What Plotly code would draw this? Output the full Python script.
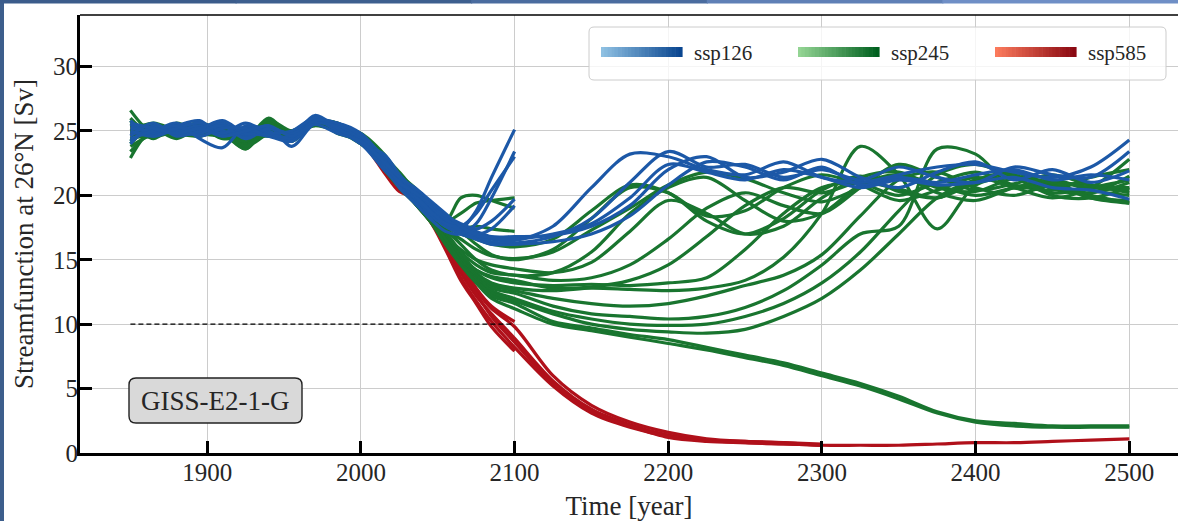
import plotly.graph_objects as go

# ---------------- data ----------------
HIST_YEARS = [1850, 1865, 1880, 1895, 1910, 1925, 1940, 1955, 1970, 1985, 2000, 2015]
SCEN_YEARS = [2025, 2035, 2045, 2055, 2065, 2075, 2085, 2100]
EXT_YEARS = [2125, 2150, 2175, 2200, 2225, 2250, 2275, 2300,
             2325, 2350, 2375, 2400, 2425, 2450, 2475, 2500]

X_TICKS = [1900, 2000, 2100, 2200, 2300, 2400, 2500]
Y_TICKS = [0, 5, 10, 15, 20, 25, 30]
THRESHOLD_YEARS = [1850, 2100]
THRESHOLD_SV = [10, 10]
MODEL_NAME = "GISS-E2-1-G"
SCENARIOS = ["ssp126", "ssp245", "ssp585"]

# ssp126 (first five members are extended to 2500)
SSP126_HIST = [
    [25.5, 24.8, 25.4, 25.8, 24.6, 25.3, 24.9, 24.4, 25.8, 25.4, 24.3, 22.4],
    [24.2, 25.2, 24.9, 25.2, 25.6, 24.6, 25.2, 24.8, 26.0, 25.0, 24.0, 22.0],
    [24.8, 25.0, 25.6, 24.4, 23.7, 25.4, 25.0, 24.2, 25.7, 25.2, 24.5, 23.0],
    [25.8, 24.6, 25.2, 25.6, 25.0, 24.8, 25.4, 23.8, 25.6, 25.6, 24.8, 22.8],
    [24.0, 25.4, 24.8, 24.8, 25.4, 25.0, 24.6, 24.6, 26.2, 25.2, 24.2, 22.6],
    [25.2, 25.0, 25.0, 25.4, 24.8, 25.6, 24.8, 24.4, 25.9, 25.0, 24.6, 22.8],
    [24.6, 25.6, 24.6, 25.0, 25.4, 24.4, 25.2, 24.8, 25.6, 25.4, 24.4, 22.2],
    [25.0, 24.6, 25.2, 25.2, 25.8, 24.8, 24.8, 25.0, 26.0, 25.2, 24.0, 23.2],
    [24.4, 25.0, 25.4, 24.6, 25.2, 25.2, 24.6, 24.2, 25.8, 25.6, 24.6, 22.4],
    [25.6, 25.2, 24.8, 25.2, 24.6, 25.0, 25.4, 24.6, 25.5, 24.8, 24.2, 22.6],
]
SSP126_SCEN = [
    [21.2, 20.2, 19.0, 18.0, 17.4, 17.0, 16.6, 16.5],
    [20.8, 19.6, 18.6, 17.8, 17.2, 16.8, 16.4, 16.3],
    [21.6, 20.4, 19.2, 18.2, 17.6, 17.2, 16.8, 16.8],
    [21.0, 19.8, 18.8, 17.6, 17.0, 16.6, 16.2, 16.2],
    [21.4, 20.0, 18.4, 17.8, 17.2, 16.9, 16.7, 16.6],
    [21.2, 19.8, 18.6, 17.6, 17.4, 18.8, 21.4, 25.1],
    [20.6, 19.4, 18.2, 17.2, 17.0, 17.8, 19.8, 23.4],
    [21.6, 20.0, 18.8, 17.8, 17.6, 18.6, 20.4, 23.0],
    [21.0, 20.2, 19.4, 18.4, 17.8, 17.4, 18.0, 19.7],
    [21.4, 20.6, 19.6, 18.6, 17.6, 17.0, 17.4, 19.2],
]
SSP126_EXT = [
    [17.6, 20.6, 23.2, 23.0, 22.0, 21.6, 22.6, 21.4, 21.0, 21.6, 22.2, 22.4, 21.8, 21.4, 22.2, 24.3],
    [16.8, 18.2, 21.0, 23.4, 22.2, 22.4, 21.4, 22.0, 21.2, 22.2, 21.4, 21.0, 22.2, 21.6, 21.4, 23.4],
    [16.9, 17.6, 19.2, 22.0, 23.0, 21.4, 21.8, 22.8, 21.4, 20.6, 21.8, 22.6, 21.2, 22.0, 21.0, 21.9],
    [16.4, 17.0, 18.4, 20.8, 22.6, 22.2, 21.2, 22.2, 20.8, 21.4, 21.0, 21.6, 22.0, 21.2, 21.6, 21.2],
    [17.0, 17.8, 19.8, 22.4, 21.8, 21.2, 22.0, 21.4, 20.6, 21.2, 20.8, 21.0, 21.4, 20.6, 20.4, 19.7],
]

# ssp245 (first fifteen members are extended to 2500)
SSP245_HIST = [
    [26.6, 24.8, 25.2, 25.0, 24.6, 25.0, 25.0, 24.8, 25.6, 25.2, 24.0, 22.4],
    [22.9, 25.2, 24.8, 25.4, 25.0, 23.8, 25.8, 25.0, 25.8, 25.0, 24.4, 22.8],
    [25.8, 24.4, 25.6, 24.8, 25.2, 24.4, 26.0, 24.6, 25.6, 25.4, 24.2, 22.2],
    [24.0, 25.4, 24.6, 25.4, 24.8, 23.6, 25.4, 24.4, 25.9, 25.2, 24.6, 23.0],
    [26.0, 24.6, 25.0, 25.0, 25.6, 24.2, 24.8, 24.2, 25.6, 25.6, 24.0, 22.6],
    [23.4, 25.0, 25.4, 24.6, 25.2, 24.0, 25.6, 24.8, 25.4, 25.0, 24.4, 22.4],
    [25.4, 25.2, 24.4, 25.2, 24.4, 24.6, 25.2, 24.6, 26.0, 25.2, 24.8, 23.2],
    [24.4, 24.8, 25.2, 25.6, 25.0, 23.8, 24.8, 25.0, 25.8, 24.8, 24.2, 22.0],
    [25.0, 25.6, 25.0, 24.6, 25.4, 24.4, 25.8, 24.4, 25.6, 25.4, 24.4, 22.6],
    [24.6, 24.6, 25.4, 25.0, 24.6, 24.8, 25.0, 24.6, 25.8, 25.0, 24.0, 22.8],
    [25.2, 25.0, 24.8, 25.2, 25.0, 23.6, 25.4, 24.8, 25.5, 25.4, 24.6, 22.4],
    [24.2, 25.4, 25.0, 24.8, 25.4, 24.2, 25.0, 24.4, 25.7, 25.0, 24.2, 23.0],
    [25.6, 24.8, 25.2, 25.2, 24.8, 24.6, 25.6, 24.6, 25.9, 25.2, 24.4, 22.6],
    [24.8, 25.2, 24.6, 25.4, 25.2, 24.0, 24.8, 25.0, 25.6, 25.2, 24.8, 22.2],
    [25.0, 24.6, 25.4, 24.8, 24.6, 24.4, 25.4, 24.2, 25.8, 25.4, 24.0, 22.8],
    [24.4, 25.0, 25.0, 25.0, 25.2, 23.8, 25.2, 24.8, 25.6, 25.0, 24.6, 23.0],
    [25.4, 25.4, 24.8, 24.6, 25.0, 24.6, 24.6, 24.6, 26.0, 25.2, 24.2, 22.6],
    [23.8, 24.8, 25.4, 25.4, 24.8, 24.2, 25.6, 24.4, 25.7, 25.6, 24.4, 22.4],
]
SSP245_SCEN = [
    [20.8, 19.6, 18.4, 17.6, 17.0, 16.6, 16.2, 16.0],
    [21.2, 19.8, 18.6, 17.4, 16.6, 15.8, 15.3, 15.1],
    [20.6, 19.4, 18.0, 16.8, 15.8, 15.0, 14.6, 14.3],
    [21.4, 20.0, 18.6, 17.0, 15.6, 14.6, 14.0, 13.8],
    [21.0, 19.6, 18.2, 16.6, 15.2, 14.2, 13.7, 13.4],
    [20.8, 19.8, 18.4, 16.8, 15.4, 14.2, 13.6, 13.2],
    [21.6, 20.2, 18.8, 17.2, 15.6, 14.0, 13.2, 12.8],
    [20.6, 19.4, 18.0, 16.4, 15.0, 13.8, 13.0, 12.6],
    [21.2, 20.0, 18.6, 16.8, 15.2, 13.8, 12.8, 12.4],
    [21.0, 19.6, 18.2, 16.6, 15.0, 13.6, 12.6, 12.0],
    [21.4, 19.8, 18.4, 16.6, 14.8, 13.4, 12.4, 11.8],
    [21.8, 20.4, 19.2, 18.0, 17.2, 16.2, 15.4, 15.0],
    [21.2, 20.0, 18.8, 17.4, 16.2, 15.0, 14.2, 13.8],
    [20.8, 19.6, 18.2, 16.6, 14.8, 13.4, 12.2, 11.6],
    [21.0, 19.4, 18.0, 16.2, 14.6, 13.2, 12.0, 11.2],
    [21.4, 20.4, 19.2, 18.0, 19.8, 20.0, 19.6, 19.0],
    [21.6, 20.6, 19.4, 18.0, 18.6, 19.4, 19.6, 19.8],
    [21.0, 20.0, 18.8, 17.6, 17.4, 17.6, 17.4, 17.2],
]
SSP245_EXT = [
    [16.6, 18.8, 20.8, 20.2, 18.0, 17.0, 18.2, 20.4, 21.5, 20.3, 19.8, 21.0, 21.8, 20.5, 20.2, 21.5],
    [15.6, 17.3, 19.0, 20.8, 21.8, 21.3, 20.2, 19.5, 20.6, 21.6, 20.8, 20.0, 20.6, 21.2, 20.4, 20.0],
    [14.0, 14.8, 17.2, 19.6, 18.6, 17.0, 17.6, 19.8, 21.4, 21.8, 20.6, 20.3, 21.3, 20.8, 19.8, 19.6],
    [13.4, 13.6, 14.6, 16.6, 19.0, 20.2, 19.2, 18.6, 20.6, 22.4, 21.4, 20.4, 20.9, 21.6, 20.8, 20.6],
    [12.8, 12.9, 13.4, 14.6, 16.8, 19.2, 20.6, 20.2, 21.0, 20.5, 19.8, 21.2, 21.6, 20.2, 20.6, 21.2],
    [13.0, 13.1, 13.0, 13.2, 13.6, 15.8, 18.6, 20.6, 20.9, 20.0, 21.0, 21.8, 20.8, 20.4, 21.4, 22.0],
    [12.6, 12.8, 12.7, 12.6, 12.8, 13.4, 15.2, 18.6, 23.8, 21.6, 17.4, 20.8, 21.4, 21.0, 20.8, 20.2],
    [12.0, 11.6, 11.4, 11.6, 12.2, 13.0, 13.8, 15.4, 18.4, 21.2, 21.8, 20.6, 20.0, 20.8, 20.0, 19.4],
    [11.4, 10.8, 10.6, 10.4, 10.6, 11.3, 12.6, 14.6, 17.0, 17.6, 23.6, 23.2, 20.6, 21.0, 20.6, 20.4],
    [11.0, 10.4, 10.0, 9.9, 10.0, 10.6, 11.6, 13.2, 15.6, 18.8, 21.6, 22.4, 21.4, 20.0, 19.8, 20.6],
    [10.8, 10.0, 9.6, 9.4, 9.3, 9.6, 10.6, 12.0, 14.2, 17.0, 19.8, 21.2, 21.8, 20.6, 20.2, 21.0],
    [15.8, 18.2, 20.6, 20.2, 18.4, 18.8, 20.6, 21.6, 20.8, 19.6, 20.4, 21.4, 20.6, 19.8, 20.6, 22.8],
    [14.0, 15.6, 18.6, 20.6, 21.4, 19.6, 18.0, 18.6, 20.8, 21.6, 20.2, 19.6, 20.6, 21.0, 19.8, 19.4],
    [10.2, 9.7, 9.2, 8.8, 8.2, 7.6, 7.0, 6.2, 5.4, 4.4, 3.2, 2.5, 2.3, 2.1, 2.1, 2.1],
    [10.0, 9.5, 9.0, 8.5, 8.0, 7.4, 6.8, 6.0, 5.2, 4.2, 3.1, 2.4, 2.1, 2.0, 2.0, 2.0],
]

# ssp585 (first member to 2500, next three to 2300)
SSP585_HIST = [
    [25.0, 25.0, 25.2, 25.0, 25.0, 24.8, 25.0, 24.6, 25.8, 25.2, 24.2, 21.8],
    [24.8, 25.2, 25.0, 25.2, 24.8, 24.8, 25.2, 24.6, 25.7, 25.0, 24.4, 22.6],
    [25.2, 24.8, 25.0, 24.8, 25.2, 25.0, 24.8, 24.8, 25.6, 25.2, 24.2, 22.4],
    [24.6, 25.0, 25.2, 25.0, 25.0, 24.6, 25.0, 24.6, 25.8, 25.4, 24.6, 22.8],
    [25.4, 25.2, 24.8, 25.2, 24.8, 25.0, 25.2, 24.4, 25.6, 25.2, 24.4, 22.4],
    [24.8, 24.8, 25.0, 25.0, 25.2, 24.8, 24.8, 24.8, 25.8, 25.0, 24.2, 22.2],
]
SSP585_SCEN = [
    [20.3, 19.8, 18.6, 16.4, 14.0, 12.2, 10.8, 8.9],
    [21.2, 20.0, 18.2, 16.0, 13.6, 11.8, 10.2, 8.2],
    [21.0, 19.6, 18.0, 16.2, 14.2, 12.6, 11.2, 9.8],
    [21.6, 20.4, 18.8, 16.6, 14.4, 12.4, 10.6, 8.6],
    [21.0, 19.6, 18.4, 16.8, 14.8, 12.8, 11.4, 10.2],
    [20.8, 19.4, 18.0, 15.8, 13.4, 11.6, 9.8, 7.9],
]
SSP585_EXT = [
    [5.6, 3.4, 2.2, 1.4, 1.0, 0.9, 0.8, 0.6, 0.6, 0.6, 0.7, 0.8, 0.8, 0.9, 1.0, 1.1],
    [5.2, 3.1, 2.0, 1.3, 1.0, 0.8, 0.7, 0.6],
    [6.0, 3.7, 2.4, 1.6, 1.1, 0.9, 0.8, 0.7],
    [5.4, 3.2, 2.1, 1.2, 0.9, 0.8, 0.7, 0.6],
]

# ---------------- styling ----------------
LINE_COLORS = {"ssp126": "#1c58a7", "ssp245": "#19752f", "ssp585": "#b0101a"}
GRAD = {"ssp126": ("#8ec0e2", "#0a4690"),
        "ssp245": ("#93d493", "#00601f"),
        "ssp585": ("#fb7a5c", "#8a0812")}
SERIF = "Liberation Serif, Times New Roman, serif"
TXT = "#262626"

W, H = 1178, 521
L, R, T, B = 80, 0, 15, 68
PW, PH = W - L - R, H - T - B
XR = [1817.2, 2531.7]
YR = [0, 34]

fig = go.Figure()

def add_member(hist, scen, ext, color):
    xs = HIST_YEARS + SCEN_YEARS
    ys = hist + scen
    if ext:
        xs = xs + EXT_YEARS[:len(ext)]
        ys = ys + ext
    fig.add_trace(go.Scatter(x=xs, y=ys, mode="lines",
                             line=dict(color=color, width=3.2, shape="spline", smoothing=0.9),
                             showlegend=False, hoverinfo="skip"))

for name, H_, S_, E_ in [("ssp585", SSP585_HIST, SSP585_SCEN, SSP585_EXT),
                         ("ssp245", SSP245_HIST, SSP245_SCEN, SSP245_EXT),
                         ("ssp126", SSP126_HIST, SSP126_SCEN, SSP126_EXT)]:
    for i in range(len(H_)):
        add_member(H_[i], S_[i], E_[i] if i < len(E_) else None, LINE_COLORS[name])

fig.add_trace(go.Scatter(x=THRESHOLD_YEARS, y=THRESHOLD_SV, mode="lines",
                         line=dict(color="black", width=1.3, dash="5px,3px"),
                         showlegend=False, hoverinfo="skip"))

# ---------------- decorations (pixel helpers) ----------------
def px(v):
    return (v - L) / PW

def py(v):
    return (H - B - v) / PH

def hexrgb(h):
    h = h.lstrip("#")
    return tuple(int(h[i:i + 2], 16) for i in (0, 2, 4))

def rrect(x0, y0, x1, y1, r):
    return (f"M {px(x0 + r)},{py(y0)} L {px(x1 - r)},{py(y0)} "
            f"Q {px(x1)},{py(y0)} {px(x1)},{py(y0 + r)} L {px(x1)},{py(y1 - r)} "
            f"Q {px(x1)},{py(y1)} {px(x1 - r)},{py(y1)} L {px(x0 + r)},{py(y1)} "
            f"Q {px(x0)},{py(y1)} {px(x0)},{py(y1 - r)} L {px(x0)},{py(y0 + r)} "
            f"Q {px(x0)},{py(y0)} {px(x0 + r)},{py(y0)} Z")

shapes = []
annotations = []

# top thin spine
shapes.append(dict(type="line", xref="paper", yref="paper", x0=0, x1=1, y0=1, y1=1,
                   line=dict(color="black", width=1.6), layer="above"))

# model name box
shapes.append(dict(type="path", xref="paper", yref="paper", path=rrect(129, 378, 302, 423, 7),
                   fillcolor="#d9d9d9", line=dict(color="#222222", width=1.4), layer="above"))
annotations.append(dict(xref="paper", yref="paper", x=px(215.5), y=py(400.5), text=MODEL_NAME,
                        showarrow=False, font=dict(family=SERIF, size=27, color=TXT),
                        xanchor="center", yanchor="middle"))

# legend box
shapes.append(dict(type="path", xref="paper", yref="paper", path=rrect(589, 27, 1166, 80, 5),
                   fillcolor="rgba(255,255,255,0.8)", line=dict(color="#cccccc", width=1),
                   layer="above"))
patch_x = {"ssp126": 601, "ssp245": 798, "ssp585": 995}
NSEG = 24
for name in SCENARIOS:
    x0 = patch_x[name]
    wseg = 81 / NSEG
    c0, c1 = hexrgb(GRAD[name][0]), hexrgb(GRAD[name][1])
    for k in range(NSEG):
        t = k / (NSEG - 1)
        c = tuple(round(c0[j] + (c1[j] - c0[j]) * t) for j in range(3))
        shapes.append(dict(type="rect", xref="paper", yref="paper",
                           x0=px(x0 + k * wseg), x1=px(x0 + (k + 1) * wseg + 0.6),
                           y0=py(57), y1=py(47), fillcolor=f"rgb{c}",
                           line=dict(width=0), layer="above"))
    annotations.append(dict(xref="paper", yref="paper", x=px(x0 + 91), y=py(52.5), text=name,
                            showarrow=False, xanchor="left", yanchor="middle",
                            font=dict(family=SERIF, size=21, color=TXT)))

# slide border (left and top strips)
shapes.append(dict(type="rect", xref="paper", yref="paper", x0=px(0), x1=px(4), y0=py(521), y1=py(0),
                   fillcolor="#3d5e8c", line=dict(width=0), layer="above"))
top_cols = ["#3b5c8b", "#3d5f8f", "#4a6c9f", "#5f80b6", "#6f8fc6"]
seg = W / len(top_cols)
for k, c in enumerate(top_cols):
    shapes.append(dict(type="rect", xref="paper", yref="paper", x0=px(k * seg), x1=px((k + 1) * seg + 1),
                       y0=py(3.5), y1=py(0), fillcolor=c, line=dict(width=0), layer="above"))

axis_common = dict(showgrid=True, gridcolor="#cccccc", gridwidth=1.4, zeroline=False,
                   showline=True, linecolor="black", linewidth=3,
                   ticks="inside", ticklen=12, tickwidth=2.6, tickcolor="black",
                   tickfont=dict(family=SERIF, size=25, color=TXT))

fig.update_layout(
    width=W, height=H,
    margin=dict(l=L, r=R, t=T, b=B, pad=0),
    paper_bgcolor="white", plot_bgcolor="white",
    xaxis=dict(range=XR, tickvals=X_TICKS, ticktext=[str(v) for v in X_TICKS],
               ticklabelstandoff=-5,
               title=dict(text="Time [year]", font=dict(family=SERIF, size=27, color=TXT),
                          standoff=12),
               **axis_common),
    yaxis=dict(range=YR, tickvals=Y_TICKS, ticktext=[str(v) for v in Y_TICKS],
               ticklabelstandoff=-6,
               title=dict(text="Streamfunction at 26°N [Sv]",
                          font=dict(family=SERIF, size=27, color=TXT), standoff=12),
               **axis_common),
    shapes=shapes, annotations=annotations, showlegend=False,
)

fig.write_html("out.html")
